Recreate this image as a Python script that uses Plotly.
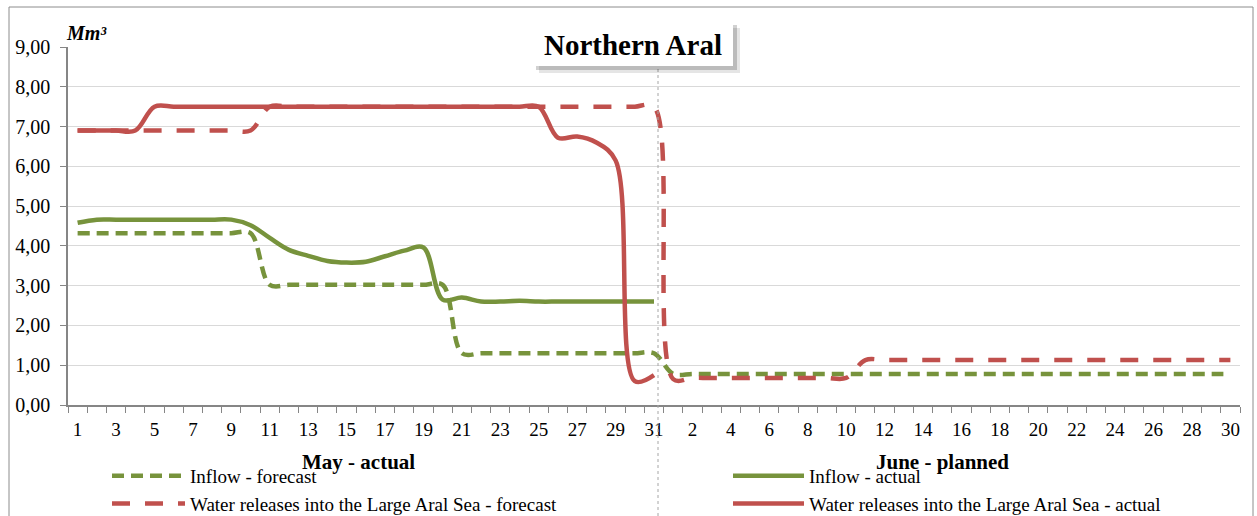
import plotly.graph_objects as go

# ---------------- data ----------------
may_days = list(range(1, 32))
june_days = list(range(1, 31))
categories = [f"May {d}" for d in may_days] + [f"June {d}" for d in june_days]
day_labels = [str(d) for d in may_days] + [str(d) for d in june_days]

inflow_forecast = [
    4.32, 4.32, 4.32, 4.32, 4.32, 4.32, 4.32, 4.32, 4.32, 4.32,
    3.02, 3.02, 3.02, 3.02, 3.02, 3.02, 3.02, 3.02, 3.02, 3.02,
    1.30, 1.30, 1.30, 1.30, 1.30, 1.30, 1.30, 1.30, 1.30, 1.30, 1.30,
    0.78, 0.78, 0.78, 0.78, 0.78, 0.78, 0.78, 0.78, 0.78, 0.78,
    0.78, 0.78, 0.78, 0.78, 0.78, 0.78, 0.78, 0.78, 0.78, 0.78,
    0.78, 0.78, 0.78, 0.78, 0.78, 0.78, 0.78, 0.78, 0.78, 0.78,
]
inflow_actual = [
    4.58, 4.66, 4.66, 4.66, 4.66, 4.66, 4.66, 4.66, 4.66, 4.52,
    4.20, 3.90, 3.75, 3.62, 3.58, 3.60, 3.74, 3.88, 3.96, 2.65,
    2.70, 2.60, 2.60, 2.62, 2.60, 2.60, 2.60, 2.60, 2.60, 2.60, 2.60,
]
release_forecast = [
    6.90, 6.90, 6.90, 6.90, 6.90, 6.90, 6.90, 6.90, 6.90, 6.90,
    7.50, 7.50, 7.50, 7.50, 7.50, 7.50, 7.50, 7.50, 7.50, 7.50,
    7.50, 7.50, 7.50, 7.50, 7.50, 7.50, 7.50, 7.50, 7.50, 7.50, 7.50,
    0.65, 0.68, 0.68, 0.68, 0.68, 0.68, 0.68, 0.68, 0.68, 0.68,
    1.13, 1.13, 1.13, 1.13, 1.13, 1.13, 1.13, 1.13, 1.13, 1.13,
    1.13, 1.13, 1.13, 1.13, 1.13, 1.13, 1.13, 1.13, 1.13, 1.13,
]
release_actual = [
    6.90, 6.90, 6.90, 6.90, 7.50, 7.50, 7.50, 7.50, 7.50, 7.50,
    7.50, 7.50, 7.50, 7.50, 7.50, 7.50, 7.50, 7.50, 7.50, 7.50,
    7.50, 7.50, 7.50, 7.50, 7.50, 6.72, 6.75, 6.60, 6.15, 0.60, 0.75,
]

y_ticks = [0, 1, 2, 3, 4, 5, 6, 7, 8, 9]

GREEN = "#77933C"
RED = "#C0504D"
FONT = "Liberation Serif"

# ---------------- figure ----------------
fig = go.Figure()

fig.add_trace(go.Scatter(
    x=categories, y=inflow_forecast, name="Inflow - forecast", mode="lines",
    line=dict(color=GREEN, width=4.5, dash="12px,7px", shape="spline", smoothing=1),
    legend="legend",
))
fig.add_trace(go.Scatter(
    x=categories[:len(inflow_actual)], y=inflow_actual, name="Inflow - actual", mode="lines",
    line=dict(color=GREEN, width=4.5, shape="spline", smoothing=1),
    legend="legend2",
))
fig.add_trace(go.Scatter(
    x=categories, y=release_forecast, name="Water releases into the Large Aral Sea - forecast",
    mode="lines",
    line=dict(color=RED, width=4.5, dash="18px,15px", shape="spline", smoothing=1),
    legend="legend",
))
fig.add_trace(go.Scatter(
    x=categories[:len(release_actual)], y=release_actual,
    name="Water releases into the Large Aral Sea - actual", mode="lines",
    line=dict(color=RED, width=4.5, shape="spline", smoothing=1),
    legend="legend2",
))

W, H = 1257, 516
L, R, T, B = 68, 17, 47, 111
pw, ph = W - L - R, H - T - B


def px(xpix):
    return (xpix - L) / pw


def py(ypix):
    return (H - B - ypix) / ph


tick_text = [lbl if i % 2 == 0 else "" for i, lbl in enumerate(day_labels)]

shapes = [
    # outer chart border
    dict(type="rect", xref="paper", yref="paper", x0=px(9), x1=px(1253), y0=py(530), y1=py(7),
         line=dict(color="#8C8C8C", width=1), fillcolor="rgba(0,0,0,0)", layer="below"),
    # separator between May and June
    dict(type="line", xref="paper", yref="paper", x0=px(658), x1=px(658), y0=py(516), y1=py(68),
         line=dict(color="#A6A6A6", width=1, dash="dot"), layer="above"),
    # title box shadow
    dict(type="rect", xref="paper", yref="paper", x0=px(539), x1=px(740), y0=py(73), y1=py(28),
         line=dict(width=0), fillcolor="rgba(0,0,0,0.10)", layer="above"),
    dict(type="rect", xref="paper", yref="paper", x0=px(536), x1=px(737), y0=py(70), y1=py(25),
         line=dict(width=0), fillcolor="rgba(0,0,0,0.18)", layer="above"),
    # title box
    dict(type="rect", xref="paper", yref="paper", x0=px(533), x1=px(733), y0=py(66), y1=py(22),
         line=dict(width=0), fillcolor="white", layer="above"),
]

annotations = [
    dict(text="<b>Northern Aral</b>", xref="paper", yref="paper", x=px(633), y=py(45),
         showarrow=False, font=dict(family=FONT, size=29, color="black"),
         xanchor="center", yanchor="middle"),
    dict(text="<b><i>Mm³</i></b>", xref="paper", yref="paper", x=px(64), y=py(33),
         showarrow=False, font=dict(family=FONT, size=20, color="black"),
         xanchor="left", yanchor="middle"),
    dict(text="<b>May - actual</b>", xref="paper", yref="paper", x=px(358), y=py(462),
         showarrow=False, font=dict(family=FONT, size=21, color="black"),
         xanchor="center", yanchor="middle"),
    dict(text="<b>June - planned</b>", xref="paper", yref="paper", x=px(942), y=py(462),
         showarrow=False, font=dict(family=FONT, size=21, color="black"),
         xanchor="center", yanchor="middle"),
]

fig.update_layout(
    width=W, height=H,
    margin=dict(l=L, r=R, t=T, b=B, autoexpand=False),
    paper_bgcolor="white", plot_bgcolor="white",
    separators=",.",
    font=dict(family=FONT, size=19, color="black"),
    showlegend=True,
    legend=dict(orientation="v", x=px(107), y=py(457), xanchor="left", yanchor="top",
                font=dict(family=FONT, size=19, color="black"), bgcolor="rgba(0,0,0,0)",
                itemwidth=73, tracegroupgap=0),
    legend2=dict(orientation="v", x=px(728), y=py(457), xanchor="left", yanchor="top",
                 font=dict(family=FONT, size=19, color="black"), bgcolor="rgba(0,0,0,0)",
                 itemwidth=71, tracegroupgap=0),
    shapes=shapes,
    annotations=annotations,
)

fig.update_xaxes(
    type="category", categoryorder="array", categoryarray=categories,
    range=[-0.5, len(categories) - 0.5],
    tickmode="array", tickvals=categories, ticktext=tick_text, tickangle=0,
    tickson="boundaries", ticks="outside", ticklen=6, tickcolor="#868686",
    showline=True, linecolor="#868686", linewidth=1.5,
    showgrid=False, zeroline=False,
    tickfont=dict(family=FONT, size=19, color="black"),
    ticklabelstandoff=6,
)
fig.update_yaxes(
    range=[0, 9], tickmode="array", tickvals=y_ticks, tickformat=".2f",
    ticks="outside", ticklen=6, tickcolor="#868686",
    showline=True, linecolor="#868686", linewidth=1.5,
    showgrid=True, gridcolor="#D9D9D9", gridwidth=1, zeroline=False,
    tickfont=dict(family=FONT, size=20, color="black"),
    ticklabelstandoff=6,
)

fig.write_html("out.html", config={"displayModeBar": False},
               post_script="document.body.style.margin='0px';")
